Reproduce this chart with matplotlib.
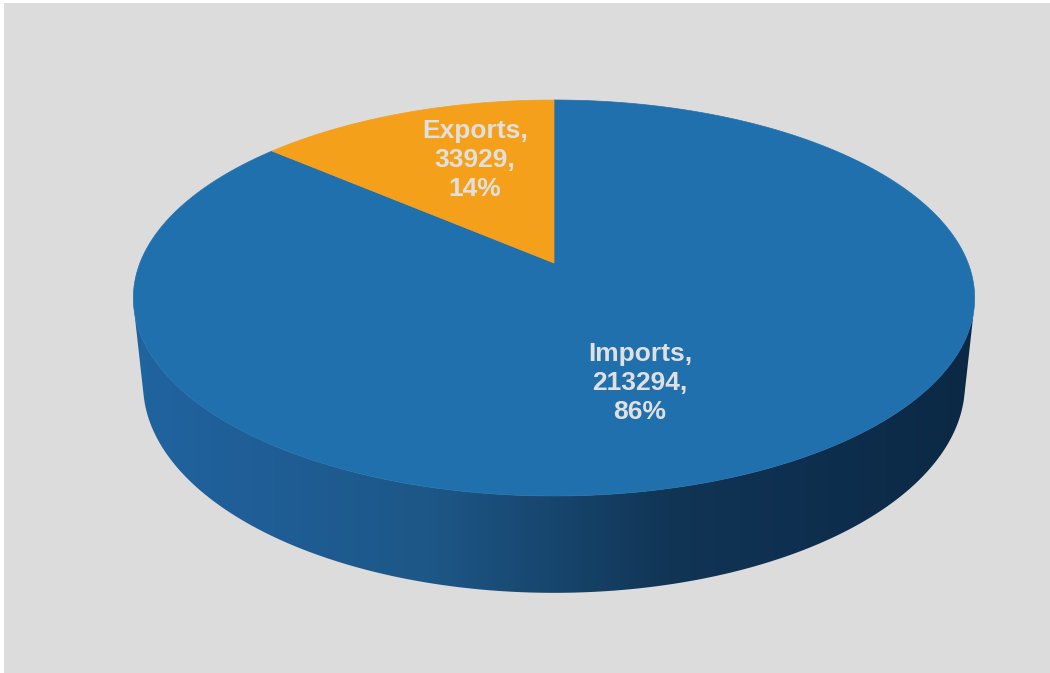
import matplotlib
matplotlib.use('Agg')
import matplotlib.pyplot as plt
import numpy as np
from matplotlib.patches import Polygon, Rectangle
from matplotlib.colors import LinearSegmentedColormap

categorias = ['Imports', 'Exports']
valores = [213294, 33929]
percentuais = ['86%', '14%']

cor_fatias = ['#2170AE', '#F5A01A']
cor_texto = '#E0E0E0'
cor_fundo = '#DCDCDC'

# camera em perspectiva (aproximação do pie 3D do Excel)
cx, cy = 554, 263
fx, fy = 2066, 2032
phi = np.radians(28.1)
c, s = np.cos(phi), np.sin(phi)
D = 4.99
H = 0.243


def projetar(X, Y, Z):
    d = D + Y * c - Z * s
    sx = cx + fx * X / d
    sy = cy - fy * (Y * s + Z * c) / d
    return sx, sy


fig = plt.figure(figsize=(10.5, 6.73), dpi=100)
fig.patch.set_facecolor('white')
ax = fig.add_axes([0, 0, 1, 1])
ax.set_xlim(0, 1050)
ax.set_ylim(673, 0)
ax.axis('off')
ax.add_patch(Rectangle((4, 3), 1046, 670, facecolor=cor_fundo, edgecolor='none', zorder=0))

# parede lateral (frente do cilindro)
t_sil = np.arcsin(-1 / (D * c))
th = np.linspace(np.pi - t_sil, 2 * np.pi + t_sil, 300)
xt, yt = projetar(np.cos(th), np.sin(th), 0 * th)
xb, yb = projetar(np.cos(th), np.sin(th), -H + 0 * th)
pts = np.column_stack([np.concatenate([xt, xb[::-1]]), np.concatenate([yt, yb[::-1]])])
lateral = Polygon(pts, closed=True, facecolor='none', edgecolor='none', zorder=1)
ax.add_patch(lateral)

stops = [(0.0, '#2064A0'), ((250 - 133) / 842, '#1F5E97'), ((430 - 133) / 842, '#1D5787'),
         ((670 - 133) / 842, '#113555'), ((830 - 133) / 842, '#0E2E4E'), (1.0, '#0B2944')]
cmap = LinearSegmentedColormap.from_list('lateral', stops)
grad = np.linspace(0, 1, 512).reshape(1, -1)
img = ax.imshow(grad, cmap=cmap, extent=[133, 975, 620, 250], aspect='auto', zorder=1,
                interpolation='bilinear')
img.set_clip_path(lateral)

# face superior
total = sum(valores)
inicio = 90.0
for v, cor in zip(valores, cor_fatias):
    ang = 360.0 * v / total
    a = np.radians(np.linspace(inicio, inicio - ang, 400))
    X = np.concatenate([[0], np.cos(a), [0]])
    Y = np.concatenate([[0], np.sin(a), [0]])
    sx, sy = projetar(X, Y, 0 * X)
    ax.add_patch(Polygon(np.column_stack([sx, sy]), closed=True, facecolor=cor,
                         edgecolor=cor, linewidth=0.5, zorder=2))
    inicio -= ang

# rótulos
pos_rotulos = [(640, 383), (475, 160)]
for cat, v, p, (lx, ly) in zip(categorias, valores, percentuais, pos_rotulos):
    ax.text(lx, ly, f'{cat},\n{v},\n{p}', ha='center', va='center', fontsize=19,
            fontweight='bold', color=cor_texto, family='Liberation Sans',
            linespacing=1.28, zorder=3)

fig.savefig('out.png', dpi=100, facecolor=fig.get_facecolor())
